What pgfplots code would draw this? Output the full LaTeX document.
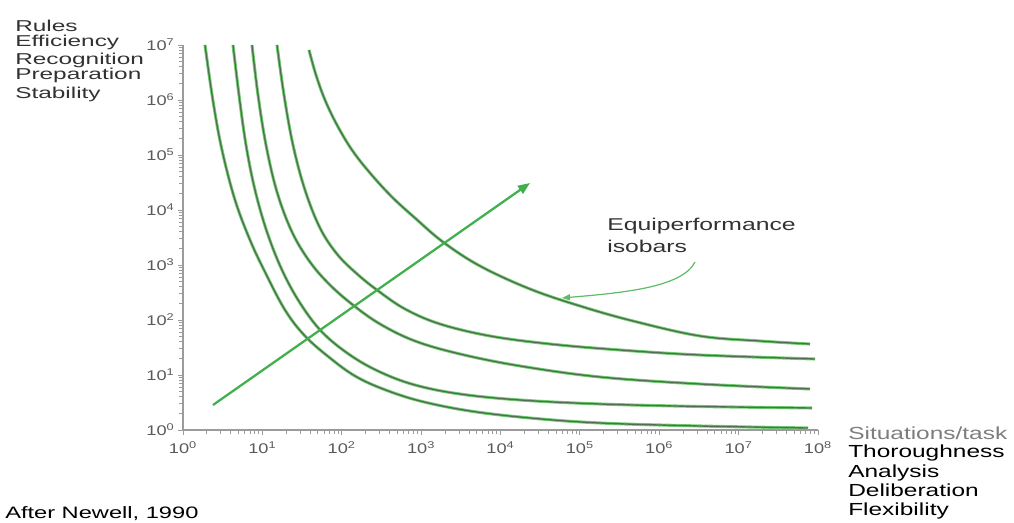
\documentclass[border=0pt]{standalone}
\usepackage{pgfplots}
\pgfplotsset{compat=1.18}
\usepackage{pgfplotstable}
\usetikzlibrary{arrows.meta}
\usepackage{fontspec}
\setmainfont{Liberation Sans}
\usepackage{graphicx}
\definecolor{curvegreen}{RGB}{115,205,115}
\definecolor{curvecore}{RGB}{80,110,80}
\definecolor{arrowgreen}{RGB}{65,175,75}
\definecolor{axisgray}{RGB}{155,155,155}
\definecolor{tickgray}{RGB}{90,90,90}
\definecolor{labgray}{RGB}{50,50,50}
\definecolor{sitgray}{RGB}{125,125,125}
\newcommand{\sx}[2][1.4]{\scalebox{#1}[1]{#2}}

\pgfplotstableread{
x y
1.893 1e7
2.388 9.59e5
3.099 1.233e5
4.520 1.520e4
6.985 2848
10.79 746
19.28 152.0
34.43 51.2
71.12 20.38
146.9 9.59
330.9 5.57
967.8 3.37
4128 2.215
23530 1.653
179300 1.341
3.262e6 1.182
7.482e7 1.087
}\curveA

\pgfplotstableread{
x y
4.265 1e7
5.077 1.233e6
6.220 1.520e5
8.074 2.310e4
11.44 3981
17.67 811
29.79 203.8
56.39 60.5
127.0 23.10
303.4 11.34
837.2 6.58
3089 4.51
17610 3.51
179300 2.97
3.262e6 2.675
8.402e7 2.512
}\curveB

\pgfplotstableread{
x y
7.400 1e7
8.809 1.233e6
11.11 1.520e5
15.29 2.125e4
23.62 3981
39.81 1134
71.12 432.9
138.6 187.4
303.4 84.6
837.2 41.5
3089 24.09
17610 14.58
179300 9.20
3.262e6 6.86
7.928e7 5.57
}\curveC

\pgfplotstableread{
x y
15.29 1e7
18.73 1.233e6
24.31 1.520e5
34.43 2.310e4
53.21 4707
87.15 1585
151.2 715.4
278.0 351.2
626.5 158.5
1729 84.6
7374 51.2
42030 36.6
320200 28.48
3.262e6 23.10
9.168e7 19.54
}\curveD

\pgfplotstableread{
x y
38.67 8.111e6
47.37 2.848e6
61.52 1e6
87.15 3.512e5
134.6 1.233e5
227.0 4.707e4
429.7 1.724e4
837.2 7154
1886 2620
5516 959
23530 366.1
100400 179.7
467000 95.9
3.262e6 51.2
1.859e7 41.5
7.928e7 36.6
}\curveE

\pgfplotsset{isobar/.style={no marks, smooth, tension=0.6}}

\begin{document}
\begin{tikzpicture}
\path[use as bounding box] (0pt,0pt) rectangle (760.5pt,392.25pt);
\begin{axis}[
  at={(137.25pt,69.75pt)}, anchor=south west,
  scale only axis, width=476.25pt, height=288.75pt,
  xmode=log, ymode=log, xmin=1, xmax=1e8, ymin=1, ymax=1e7,
  axis lines=left, axis line style={-, draw=axisgray, line width=0.8pt},
  xtick={1,10,100,1000,1e4,1e5,1e6,1e7,1e8},
  ytick={1,10,100,1000,1e4,1e5,1e6,1e7},
  minor xtick={}, minor ytick={},
  xticklabels={\sx[1.3]{10\textsuperscript{0}},\sx[1.3]{10\textsuperscript{1}},\sx[1.3]{10\textsuperscript{2}},\sx[1.3]{10\textsuperscript{3}},\sx[1.3]{10\textsuperscript{4}},\sx[1.3]{10\textsuperscript{5}},\sx[1.3]{10\textsuperscript{6}},\sx[1.3]{10\textsuperscript{7}},\sx[1.3]{10\textsuperscript{8}}},
  yticklabels={\sx[1.3]{10\textsuperscript{0}},\sx[1.3]{10\textsuperscript{1}},\sx[1.3]{10\textsuperscript{2}},\sx[1.3]{10\textsuperscript{3}},\sx[1.3]{10\textsuperscript{4}},\sx[1.3]{10\textsuperscript{5}},\sx[1.3]{10\textsuperscript{6}},\sx[1.3]{10\textsuperscript{7}}},
  tick align=outside, major tick length=3.75pt,
  tick style={draw=axisgray, line width=0.6pt},
  tick label style={font=\fontsize{10.5}{10.5}\selectfont, text=tickgray},
  xticklabel style={yshift=-1.5pt},
  yticklabel style={xshift=1pt},
  clip=false,
]
\addplot[isobar, draw=curvegreen, line width=2.3pt] table {\curveA};
\addplot[isobar, draw=curvecore, line width=1.0pt] table {\curveA};
\addplot[isobar, draw=curvegreen, line width=2.3pt] table {\curveB};
\addplot[isobar, draw=curvecore, line width=1.0pt] table {\curveB};
\addplot[isobar, draw=curvegreen, line width=2.3pt] table {\curveC};
\addplot[isobar, draw=curvecore, line width=1.0pt] table {\curveC};
\addplot[isobar, draw=curvegreen, line width=2.3pt] table {\curveD};
\addplot[isobar, draw=curvecore, line width=1.0pt] table {\curveD};
\addplot[isobar, draw=curvegreen, line width=2.3pt] table {\curveE};
\addplot[isobar, draw=curvecore, line width=1.0pt] table {\curveE};
\addplot[no marks, draw=arrowgreen, line width=1.7pt, -{Triangle[length=9pt,width=7pt]}] coordinates {(2.388,2.848) (23530,30970)};
\end{axis}

\begin{scope}[x=0.75pt, y=0.75pt, every node/.style={inner sep=0pt, anchor=base west}]
\node[text=labgray, font=\fontsize{11.8}{12}\selectfont] at (15,491) {\sx[1.55]{Rules}};
\node[text=labgray, font=\fontsize{11.8}{12}\selectfont] at (15,476) {\sx[1.55]{Efficiency}};
\node[text=labgray, font=\fontsize{11.8}{12}\selectfont] at (15,458) {\sx[1.55]{Recognition}};
\node[text=labgray, font=\fontsize{11.8}{12}\selectfont] at (15,443) {\sx[1.55]{Preparation}};
\node[text=labgray, font=\fontsize{11.8}{12}\selectfont] at (15,424) {\sx[1.55]{Stability}};

\node[text=sitgray, font=\fontsize{13.1}{13}\selectfont] at (848,83) {\sx[1.4]{Situations/task}};
\node[text=black, font=\fontsize{13.1}{13}\selectfont] at (848,65) {\sx[1.4]{Thoroughness}};
\node[text=black, font=\fontsize{13.1}{13}\selectfont] at (848,45) {\sx[1.4]{Analysis}};
\node[text=black, font=\fontsize{13.1}{13}\selectfont] at (848,26) {\sx[1.4]{Deliberation}};
\node[text=black, font=\fontsize{13.1}{13}\selectfont] at (848,7) {\sx[1.4]{Flexibility}};

\node[text=black, font=\fontsize{12.4}{13}\selectfont] at (5,4) {\sx[1.43]{After Newell, 1990}};

\node[text=labgray, font=\fontsize{12.8}{13}\selectfont] at (607,292) {\sx[1.45]{Equiperformance}};
\node[text=labgray, font=\fontsize{12.8}{13}\selectfont] at (607,270) {\sx[1.45]{isobars}};
\draw[draw=arrowgreen!85, line width=0.9pt, -{Triangle[length=6pt,width=4.5pt]}] (695,261) .. controls (682,235) and (620,230) .. (562,225);
\end{scope}
\end{tikzpicture}
\end{document}
